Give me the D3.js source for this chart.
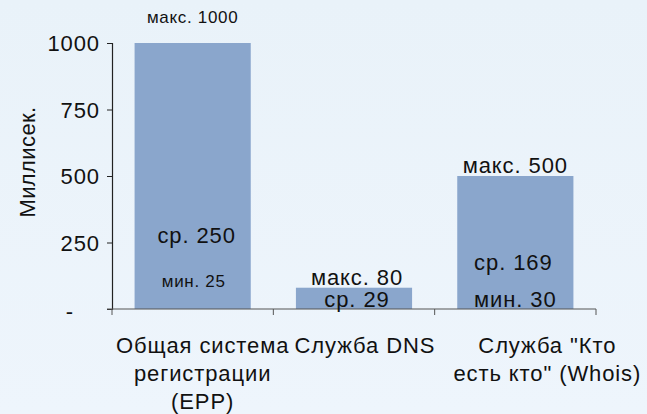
<!DOCTYPE html>
<html>
<head>
<meta charset="utf-8">
<script src="https://cdn.jsdelivr.net/npm/d3@7"></script>
<style>
  html, body { margin: 0; padding: 0; background: #ecf3fa; }
  svg { display: block; font-family: "Liberation Sans", Arial, sans-serif; }
</style>
</head>
<body>
<svg id="chart" width="647" height="414"></svg>
<script>
// Response times per service, milliseconds
const categories = [
  ["Общая система", "регистрации", "(EPP)"],
  ["Служба DNS"],
  ["Служба \"Кто", "есть кто\" (Whois)"]
];
const maxValues = [1000, 80, 500];
const avgValues = [250, 29, 169];
const minValues = [25, null, 30];
const yTicks = [0, 250, 500, 750, 1000];
const yTitle = "Миллисек.";

const W = 647, H = 414;
const margin = { left: 112, right: 51, top: 43, bottom: 105 };
const BIG = 22, SMALL = 17;
const BIG_LS = 0.9, SMALL_LS = 0.7;

const svg = d3.select("#chart");

// soft background wash
const defs = svg.append("defs");
const grad = defs.append("linearGradient").attr("id", "bg")
  .attr("x1", 0).attr("y1", 0).attr("x2", 0).attr("y2", 1);
grad.append("stop").attr("offset", 0).attr("stop-color", "#e9f2f9");
grad.append("stop").attr("offset", 1).attr("stop-color", "#eef5fc");
svg.append("rect").attr("width", W).attr("height", H).attr("fill", "url(#bg)");

const x = d3.scaleBand()
  .domain(d3.range(categories.length))
  .range([margin.left, W - margin.right])
  .paddingInner(0.28)
  .paddingOuter(0.14);

const y = d3.scaleLinear()
  .domain([0, 1000])
  .range([H - margin.bottom, margin.top]);

// bars (height = maximum value)
svg.append("g").selectAll("rect")
  .data(maxValues)
  .join("rect")
  .attr("x", (d, i) => x(i))
  .attr("y", d => y(d))
  .attr("width", x.bandwidth())
  .attr("height", d => y(0) - y(d))
  .attr("fill", "#8aa6cc");

// y axis
const yAxis = d3.axisLeft(y)
  .tickValues(yTicks)
  .tickSize(5)
  .tickPadding(7)
  .tickFormat(d => d === 0 ? "-" : d3.format("d")(d));
const gy = svg.append("g")
  .attr("transform", `translate(${margin.left},0)`)
  .call(yAxis);
gy.select(".domain").attr("stroke", "#222").attr("stroke-width", 1.2);
gy.selectAll(".tick line").attr("stroke", "#222");
gy.selectAll(".tick text")
  .attr("font-size", BIG)
  .attr("letter-spacing", BIG_LS)
  .attr("fill", "#111")
  .attr("font-family", "Liberation Sans, Arial, sans-serif")
  .attr("dx", d => d === 0 ? -26 : 0)
  .attr("dy", d => d === 0 ? "0.45em" : "0.36em");

// x axis: baseline with ticks on category boundaries
const step = x.step();
const x0 = x(0) - x.paddingOuter() * step;
const bounds = d3.range(categories.length + 1).map(i => x0 + i * step);
const gx = svg.append("g");
gx.append("line")
  .attr("x1", margin.left - 5).attr("x2", bounds[bounds.length - 1])
  .attr("y1", y(0)).attr("y2", y(0))
  .attr("stroke", "#555").attr("stroke-width", 1.2);
gx.selectAll("line.tk").data(bounds).join("line").attr("class", "tk")
  .attr("x1", d => d).attr("x2", d => d)
  .attr("y1", y(0)).attr("y2", y(0) + 6)
  .attr("stroke", "#555");

// category labels
const catShift = [10, 11, 32];
const catG = svg.append("g").attr("font-size", BIG).attr("letter-spacing", BIG_LS)
  .attr("fill", "#111").attr("text-anchor", "middle");
categories.forEach((lines, i) => {
  const t = catG.append("text").attr("y", y(0) + 44);
  lines.forEach((ln, k) => {
    t.append("tspan")
      .attr("x", x(i) + x.bandwidth() / 2 + catShift[i])
      .attr("dy", k === 0 ? 0 : 28)
      .text(ln);
  });
});

// value annotations
const fmt = d3.format("d");
const ann = [];
maxValues.forEach((v, i) => {
  ann.push({ i, text: "макс. " + fmt(v), y: i === 0 ? 23 : y(v) - 3, small: i === 0, dx: [0, 3, 0][i] });
});
avgValues.forEach((v, i) => {
  ann.push({ i, text: "ср. " + fmt(v), y: [243, 307, 270][i], small: false, dx: [4, 3, -2][i] });
});
minValues.forEach((v, i) => {
  if (v == null) return;
  ann.push({ i, text: "мин. " + fmt(v), y: [287, null, 307][i], small: i === 0, dx: i === 0 ? 1 : 0 });
});
svg.append("g").attr("text-anchor", "middle").attr("fill", "#111")
  .selectAll("text").data(ann).join("text")
  .attr("x", d => x(d.i) + x.bandwidth() / 2 + d.dx)
  .attr("y", d => d.y)
  .attr("font-size", d => d.small ? SMALL : BIG)
  .attr("letter-spacing", d => d.small ? SMALL_LS : BIG_LS)
  .text(d => d.text);

// y axis title
svg.append("text")
  .attr("transform", `translate(35,162) rotate(-90)`)
  .attr("text-anchor", "middle")
  .attr("font-size", BIG)
  .attr("letter-spacing", 0.4)
  .attr("fill", "#111")
  .text(yTitle);
</script>
</body>
</html>
